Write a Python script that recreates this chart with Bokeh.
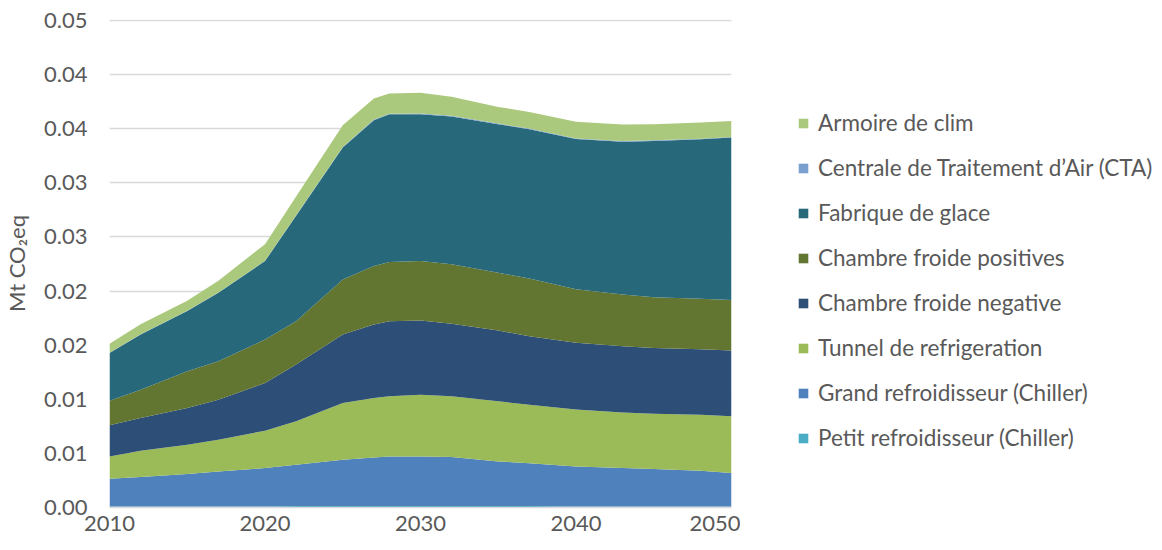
from bokeh.plotting import figure
from bokeh.layouts import row
from bokeh.models import (ColumnDataSource, FixedTicker, CustomJSTickFormatter,
                          Legend, LegendItem, Range1d)
from bokeh.embed import file_html
from bokeh.resources import INLINE

years = [2010, 2012, 2015, 2017, 2020, 2022, 2025, 2027, 2028, 2030,
         2032, 2035, 2037, 2040, 2043, 2045, 2048, 2050]

petit = [0.0001, 0.0001, 0.0001, 0.0001, 0.0001, 0.00015, 0.00015, 0.00015, 0.00015,
         0.00015, 0.00015, 0.00015, 0.00015, 0.0001, 0.0001, 0.0001, 0.0001, 0.0001]
grand = [0.00255, 0.00271, 0.00299, 0.00323, 0.00354, 0.00380, 0.00426, 0.00448, 0.00457,
         0.00457, 0.00451, 0.00411, 0.00395, 0.00370, 0.00354, 0.00345, 0.00330, 0.00308]
tunnel = [0.00207, 0.00244, 0.00272, 0.00293, 0.00346, 0.00401, 0.00525, 0.00549, 0.00555,
          0.00571, 0.00562, 0.00555, 0.00540, 0.00525, 0.00515, 0.00512, 0.00518, 0.00525]
negative = [0.00287, 0.00302, 0.00339, 0.00370, 0.00441, 0.00525, 0.00633, 0.00679, 0.00694,
            0.00685, 0.00670, 0.00654, 0.00633, 0.00617, 0.00611, 0.00608, 0.00605, 0.00608]
positives = [0.00228, 0.00262, 0.00340, 0.00355, 0.00401, 0.00401, 0.00509, 0.00540, 0.00549,
             0.00549, 0.00549, 0.00534, 0.00534, 0.00494, 0.00478, 0.00469, 0.00466, 0.00466]
fabrique = [0.00441, 0.00509, 0.00556, 0.00633, 0.00725, 0.00975, 0.01219, 0.01349, 0.01364,
            0.01358, 0.01367, 0.01373, 0.01379, 0.01389, 0.01413, 0.01444, 0.01475, 0.01503]
cta = [0.00002, 0.00002, 0.00002, 0.00003, 0.00003, 0.00004, 0.00005, 0.00006, 0.00006,
       0.00006, 0.00006, 0.00006, 0.00006, 0.00006, 0.00005, 0.00005, 0.00005, 0.00005]
armoire = [0.00083, 0.00093, 0.00093, 0.00108, 0.00154, 0.00173, 0.00201, 0.00194, 0.00185,
           0.00191, 0.00176, 0.00154, 0.00154, 0.00154, 0.00154, 0.00148, 0.00148, 0.00148]

series_keys = ["petit", "grand", "tunnel", "negative", "positives", "fabrique", "cta", "armoire"]
series_names = ["Petit refroidisseur (Chiller)", "Grand refroidisseur (Chiller)",
                "Tunnel de refrigeration", "Chambre froide negative",
                "Chambre froide positives", "Fabrique de glace",
                "Centrale de Traitement d\u2019Air (CTA)", "Armoire de clim"]
series_colors = ["#4BACC6", "#4F81BD", "#9BBB59", "#2C4E77",
                 "#627631", "#27697A", "#7BA0D0", "#ABC97C"]

y_ticks = [0, 0.005, 0.01, 0.015, 0.02, 0.025, 0.03, 0.035, 0.04, 0.045]
y_tick_labels = ["0.00", "0.01", "0.01", "0.02", "0.02", "0.03", "0.03", "0.04", "0.04", "0.05"]
x_ticks = [2010, 2020, 2030, 2040, 2050]

source = ColumnDataSource(dict(year=years, petit=petit, grand=grand, tunnel=tunnel,
                               negative=negative, positives=positives, fabrique=fabrique,
                               cta=cta, armoire=armoire))

FONT = "Lato"
TXT = "#595959"

# ---- main chart ----
p = figure(width=740, height=550, output_backend="svg", toolbar_location=None,
           x_range=Range1d(2010, 2050), y_range=Range1d(0, 0.0451),
           min_border_left=109, min_border_right=9, min_border_top=19,
           min_border_bottom=43)
p.outline_line_color = None
p.background_fill_color = "white"
p.border_fill_color = "white"

p.varea_stack(stackers=series_keys, x="year", color=series_colors, source=source)

p.xgrid.grid_line_color = None
p.ygrid.grid_line_color = "#D9D9D9"
p.ygrid.grid_line_width = 1.3
p.ygrid.ticker = FixedTicker(ticks=y_ticks)

p.yaxis.ticker = FixedTicker(ticks=y_ticks)
p.yaxis.formatter = CustomJSTickFormatter(args=dict(labels=y_tick_labels),
                                          code="return labels[Math.round(tick / 0.005)];")
p.yaxis.axis_line_color = None
p.yaxis.major_tick_line_color = None
p.yaxis.minor_tick_line_color = None
p.yaxis.major_label_standoff = 16
p.yaxis.major_label_text_font = FONT
p.yaxis.major_label_text_font_size = "22px"
p.yaxis.major_label_text_color = TXT
p.yaxis.axis_label = "Mt CO\u2082eq"
p.yaxis.axis_label_text_font = FONT
p.yaxis.axis_label_text_font_size = "22px"
p.yaxis.axis_label_text_font_style = "normal"
p.yaxis.axis_label_text_color = TXT
p.yaxis.axis_label_standoff = 11

p.xaxis.ticker = FixedTicker(ticks=x_ticks)
p.xaxis.axis_line_color = "#D9D9D9"
p.xaxis.axis_line_width = 1.3
p.xaxis.major_tick_line_color = None
p.xaxis.minor_tick_line_color = None
p.xaxis.major_label_standoff = 2
p.xaxis.major_label_text_font = FONT
p.xaxis.major_label_text_font_size = "22px"
p.xaxis.major_label_text_color = TXT

# ---- legend panel (same series, kept out of view; only the legend shows) ----
lg = figure(width=422, height=550, output_backend="svg", toolbar_location=None,
            x_range=Range1d(0, 1), y_range=Range1d(0, 1),
            x_axis_type=None, y_axis_type=None, min_border=0)
lg.outline_line_color = None
lg.xgrid.visible = False
lg.ygrid.visible = False
lg_renderers = lg.varea_stack(stackers=series_keys, x="year", color=series_colors, source=source)

items = [LegendItem(label=series_names[i], renderers=[lg_renderers[i]])
         for i in reversed(range(len(series_keys)))]
legend = Legend(items=items, location=(57, 56), orientation="vertical",
                glyph_width=12, glyph_height=12, label_height=26, spacing=18,
                label_standoff=9, padding=0, margin=0,
                border_line_color=None, background_fill_alpha=0,
                label_text_font=FONT, label_text_font_size="22.5px",
                label_text_color=TXT)
lg.add_layout(legend, "center")

layout = row(p, lg)
open("out.html", "w").write(file_html(layout, INLINE))
